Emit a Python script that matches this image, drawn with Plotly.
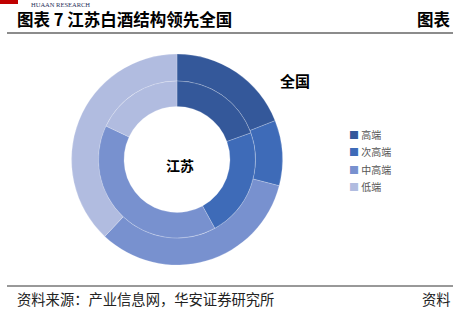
import plotly.graph_objects as go

labels = ["高端", "次高端", "中高端", "低端"]
national = [19, 10, 33, 38]      # 全国 (outer ring), %
jiangsu = [19.5, 22.5, 40, 18]   # 江苏 (inner ring), %
colors = ["#34589a", "#3e6bb8", "#7891cf", "#b1bce0"]

W, H = 453, 316
cx, cy = 177, 159.5
R_out, R_mid, R_in = 105.5, 78.5, 53


def dom(r):
    return dict(x=[(cx - r) / W, (cx + r) / W],
                y=[(H - cy - r) / H, (H - cy + r) / H])


fig = go.Figure()
fig.add_trace(go.Pie(labels=labels, values=national, hole=R_mid / R_out,
                     domain=dom(R_out), sort=False, direction="clockwise",
                     rotation=0, textinfo="none", hoverinfo="label+value",
                     marker=dict(colors=colors, line=dict(color="rgba(255,255,255,0.35)", width=0.6)),
                     showlegend=False))
fig.add_trace(go.Pie(labels=labels, values=jiangsu, hole=R_in / R_mid,
                     domain=dom(R_mid), sort=False, direction="clockwise",
                     rotation=0, textinfo="none", hoverinfo="label+value",
                     marker=dict(colors=colors, line=dict(color="rgba(255,255,255,0.35)", width=0.6)),
                     showlegend=False))

cjk = "Noto Sans CJK SC"
ann = []
def px(x, y, text, size, color="#000", xanchor="left", yanchor="middle", family=cjk):
    ann.append(dict(x=x / W, y=1 - y / H, xref="paper", yref="paper", text=text,
                    showarrow=False, xanchor=xanchor, yanchor=yanchor, borderpad=0,
                    font=dict(size=size, color=color, family=family)))

px(30, 0, "HUAAN RESEARCH", 6.5, "#1f2f5a", yanchor="top", family="Liberation Serif")
px(16, 19, "<b>图表 7 江苏白酒结构领先全国</b>", 16.5)
px(452, 19, "<b>图表</b>", 16.5, xanchor="right")
px(279, 80, "<b>全国</b>", 15)
px(180, 165, "<b>江苏</b>", 14, xanchor="center")
px(16, 298, "资料来源：产业信息网，华安证券研究所", 14.3, "#222")
px(452, 298, "资料", 14.3, "#222", xanchor="right")

leg_y = [134, 151.5, 169, 186]
for lab, col, y in zip(labels, colors, leg_y):
    px(348, y, f"<span style='color:{col}'>■</span> {lab}", 10, "#555")

shapes = [
    dict(type="rect", xref="paper", yref="paper", x0=0, x1=18 / W, y0=1 - 4 / H, y1=1,
         fillcolor="#c00000", line=dict(width=0)),
    dict(type="line", xref="paper", yref="paper", x0=7 / W, x1=1, y0=1 - 33 / H, y1=1 - 33 / H,
         line=dict(color="#8c8c8c", width=2)),
    dict(type="line", xref="paper", yref="paper", x0=7 / W, x1=1, y0=1 - 286 / H, y1=1 - 286 / H,
         line=dict(color="#333", width=1)),
]

fig.update_layout(width=W, height=H, margin=dict(l=0, r=0, t=0, b=0),
                  paper_bgcolor="white", plot_bgcolor="white",
                  annotations=ann, shapes=shapes, showlegend=False)
fig.write_html("out.html")
